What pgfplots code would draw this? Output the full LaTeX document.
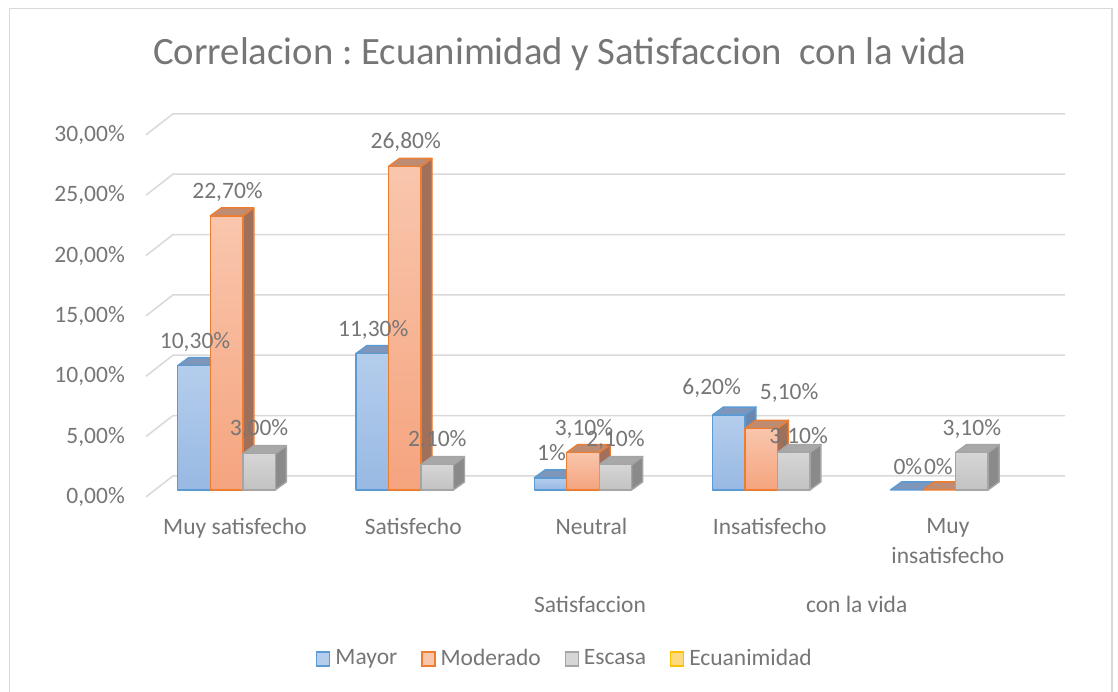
\documentclass[border=0pt]{standalone}
\usepackage{fontspec}
\setmainfont{Carlito}
\usepackage{pgfplots}
\usepackage{pgfplotstable}
\pgfplotsset{compat=1.18}
\frenchspacing

\definecolor{txt}{RGB}{118,118,118}
\definecolor{gridc}{RGB}{217,217,217}
\definecolor{bedge}{RGB}{91,155,213}
\definecolor{bhi}{RGB}{180,205,236}
\definecolor{blo}{RGB}{152,185,227}
\definecolor{btop}{RGB}{125,150,185}
\definecolor{bside}{RGB}{105,135,175}
\definecolor{oedge}{RGB}{237,125,49}
\definecolor{ohi}{RGB}{249,198,173}
\definecolor{olo}{RGB}{245,164,126}
\definecolor{otop}{RGB}{190,140,115}
\definecolor{oside}{RGB}{160,112,90}
\definecolor{gedge}{RGB}{165,165,165}
\definecolor{ghi}{RGB}{214,214,214}
\definecolor{glo}{RGB}{194,194,194}
\definecolor{gtop}{RGB}{168,168,168}
\definecolor{gside}{RGB}{138,138,138}
\definecolor{yedge}{RGB}{255,192,0}
\definecolor{yfill}{RGB}{255,217,128}

\newcommand\chartfont{\fontsize{23.5}{30}\selectfont}

% x = category, y = percent, lbl = data label, lx/ly = label offset (pt)
\pgfplotstableread{
x y    lbl   lx  ly
0 10.3 10,30 1   24
1 11.3 11,30 1   24
2 1    1     1   25
3 6.2  6,20  -17 27
4 0    0     1   23
}\mayor
\pgfplotstableread{
x y    lbl   lx  ly
0 22.7 22,70 1   24
1 26.8 26,80 1   24
2 3.1  3,10  1   24
3 5.1  5,10  28  35
4 0    0     -1  23
}\moderado
\pgfplotstableread{
x y    lbl   lx  ly
0 3.0  3,00  0   25
1 2.1  2,10  0   25
2 2.1  2,10  0   25
3 3.1  3,10  5   16
4 3.1  3,10  0   24
}\escasa

% bar geometry in axis units
\def\bw{0.1824}
\def\bdx{0.0617}
\def\bdy{0.663}

% #1 category, #2 series index, #3 value, #4 colour prefix
\newcommand{\barfaces}[4]{%
  \pgfmathsetmacro\xa{#1-0.2736+#2*\bw}%
  \pgfmathsetmacro\xb{\xa+\bw}%
  \pgfmathsetmacro\xc{\xb+\bdx}%
  \pgfmathsetmacro\xd{\xa+\bdx}%
  \pgfmathsetmacro\yt{#3+\bdy}%
  \addplot[draw=#4edge, fill=#4side, line width=1.4pt, line join=round]
    coordinates {(\xb,0) (\xc,\bdy) (\xc,\yt) (\xb,#3)} -- cycle;
  \addplot[draw=#4edge, fill=#4top, line width=1.4pt, line join=round]
    coordinates {(\xa,#3) (\xd,\yt) (\xc,\yt) (\xb,#3)} -- cycle;
  \ifdim#3pt>0pt
  \addplot[draw=#4edge, top color=#4hi, bottom color=#4lo, line width=1.4pt, line join=round]
    coordinates {(\xa,0) (\xa,#3) (\xb,#3) (\xb,0)} -- cycle;
  \fi
}

\pgfplotsset{
  barlabels/.style={draw=none, mark=none,
    nodes near coords={\pgfplotspointmeta\%},
    point meta=explicit symbolic,
    visualization depends on={\thisrow{lx} \as \lblx},
    visualization depends on={\thisrow{ly} \as \lbly},
    every node near coord/.append style={anchor=center, inner sep=0pt,
      xshift=\lblx pt, yshift=\lbly pt, text=txt, font=\chartfont}},
}

\begin{document}
\begin{tikzpicture}
\fill[white] (0,0) rectangle (1118pt,-691pt);
\useasboundingbox (0,0) rectangle (1118pt,-691pt);
\draw[gridc, line width=1.5pt] (9.5pt,-8.5pt) rectangle (1112pt,-720pt);

\begin{axis}[
  at={(146pt,-508pt)}, anchor=south west,
  scale only axis, width=919pt, height=398.3pt,
  xmin=-0.452, xmax=4.705, ymin=-1.5, ymax=31.5,
  clip=false,
  axis line style={draw=none}, tick style={draw=none},
  /pgf/number format/assume math mode=true,
  ytick={0,5,...,30},
  yticklabel={\pgfmathprintnumber[fixed,fixed zerofill,precision=2,use comma]{\tick}\%},
  yticklabel style={anchor=east, inner sep=0pt, xshift=-21pt, yshift=-7pt, text=txt, font=\chartfont},
  xtick={0,...,4},
  xticklabels={Muy satisfecho, Satisfecho, Neutral, Insatisfecho, {Muy\\insatisfecho}},
  xticklabel style={align=center, anchor=north, inner sep=0pt, xshift=8.5pt, yshift=-10pt, text=txt, font=\chartfont},
  xlabel={Satisfaccion\hspace{160pt}con la vida},
  xlabel style={at={(axis description cs:0.6254,-0.241)}, anchor=center, inner sep=0pt, text=txt, font=\chartfont},
  title={Correlacion : Ecuanimidad y Satisfaccion\ \ con la vida},
  title style={at={(axis description cs:0.4505,1.1147)}, anchor=base, inner sep=0pt, yshift=-6pt, text=txt, font=\fontsize{38.7}{45}\selectfont},
  legend style={at={(axis description cs:0.456,-0.3766)}, anchor=center, draw=none, fill=none,
    legend columns=4, font=\chartfont, text=txt,
    /tikz/every odd column/.append style={column sep=3pt},
    /tikz/every even column/.append style={column sep=22pt}},
  legend cell align=left,
]
% back wall grid lines with their 3D floor slant
\pgfplotsinvokeforeach{0,5,...,30}{%
  \pgfmathsetmacro\ga{#1-0.58}\pgfmathsetmacro\gb{#1+1.16}%
  \addplot[gridc, line width=1.5pt, forget plot] coordinates {(-0.452,\ga) (-0.3005,\gb) (4.705,\gb)};
}

\addlegendimage{legend image code/.code={\draw[draw=bedge, fill=bhi, line width=1.2pt] (0pt,-8pt) rectangle (13pt,6pt);}}
\addlegendentry{Mayor}
\addlegendimage{legend image code/.code={\draw[draw=oedge, fill=ohi, line width=1.2pt] (0pt,-8pt) rectangle (13pt,6pt);}}
\addlegendentry{Moderado}
\addlegendimage{legend image code/.code={\draw[draw=gedge, fill=ghi, line width=1.2pt] (0pt,-8pt) rectangle (13pt,6pt);}}
\addlegendentry{Escasa}
\addlegendimage{legend image code/.code={\draw[draw=yedge, fill=yfill, line width=1.2pt] (0pt,-8pt) rectangle (13pt,6pt);}}
\addlegendentry{Ecuanimidad}

\pgfplotsinvokeforeach{0,...,4}{%
  \pgfplotstablegetelem{#1}{y}\of\mayor\let\val\pgfplotsretval
  \barfaces{#1}{0}{\val}{b}%
  \pgfplotstablegetelem{#1}{y}\of\moderado\let\val\pgfplotsretval
  \barfaces{#1}{1}{\val}{o}%
  \pgfplotstablegetelem{#1}{y}\of\escasa\let\val\pgfplotsretval
  \barfaces{#1}{2}{\val}{g}%
}

\addplot[barlabels, forget plot] table[x expr=\thisrow{x}-0.2736+0.5*\bw, y=y, meta=lbl] {\mayor};
\addplot[barlabels, forget plot] table[x expr=\thisrow{x}-0.2736+1.5*\bw, y=y, meta=lbl] {\moderado};
\addplot[barlabels, forget plot] table[x expr=\thisrow{x}-0.2736+2.5*\bw, y=y, meta=lbl] {\escasa};
\end{axis}
\end{tikzpicture}
\end{document}
